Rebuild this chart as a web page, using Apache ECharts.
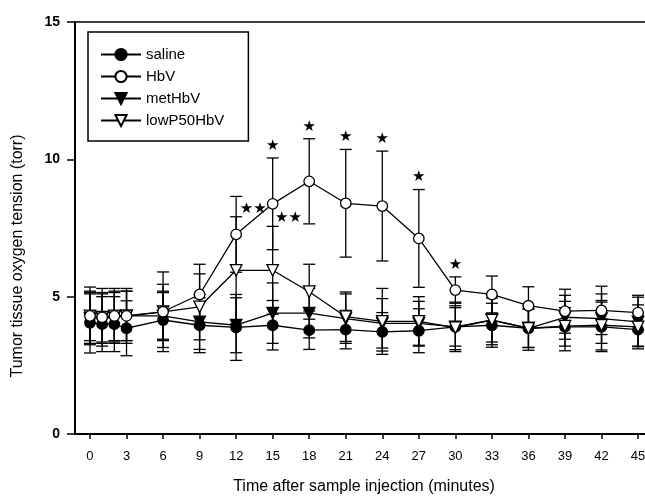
<!DOCTYPE html>
<html>
<head>
<meta charset="utf-8">
<script src="https://cdn.jsdelivr.net/npm/echarts@6/dist/echarts.min.js"></script>
<style>html,body{margin:0;padding:0;background:#fff;}#c{width:645px;height:498px;}</style>
</head>
<body>
<div id="c"></div>
<script>
const times = [0,1,2,3,6,9,12,15,18,21,24,27,30,33,36,39,42,45];
const xTicks = [0,3,6,9,12,15,18,21,24,27,30,33,36,39,42,45];
const yTicks = [0,5,10,15];

const salineMean = [4.05,4.0,4.0,3.85,4.15,3.96,3.88,3.96,3.78,3.8,3.72,3.76,3.9,3.96,3.85,3.9,3.9,3.8];
const salineSD   = [1.1,1.0,1.0,1.0,1.0,1.0,1.2,0.9,0.7,0.7,0.7,0.8,0.7,0.8,0.7,0.7,0.9,0.6];

const hbvMean = [4.3,4.25,4.3,4.3,4.45,5.08,7.27,8.38,9.2,8.4,8.3,7.12,5.24,5.08,4.67,4.47,4.5,4.42];
const hbvSD   = [1.05,1.05,1.0,1.0,1.45,1.1,1.38,1.67,1.55,1.96,2.0,1.78,0.48,0.67,0.69,0.8,0.88,0.63];

const metMean = [4.2,4.2,4.25,4.3,4.3,4.08,3.96,4.4,4.4,4.2,4.03,4.03,3.9,4.15,3.85,4.25,4.2,4.08];
const metSD   = [0.9,0.9,0.9,0.9,0.9,1.0,1.0,1.1,0.9,0.9,0.9,0.8,0.9,0.9,0.8,0.8,0.9,0.9];

const lowMean = [4.3,4.25,4.3,4.3,4.45,4.63,5.96,5.96,5.18,4.27,4.1,4.1,3.87,4.15,3.85,3.93,3.96,3.9];
const lowSD   = [0.9,0.9,0.9,0.9,1.0,1.2,1.95,1.6,1.0,0.9,1.2,0.9,0.8,0.8,0.7,0.9,0.9,0.8];

const singleStarTimes = [15,18,21,24,27,30];
const doubleStarPos = [[13.4,8.19],[16.3,7.86]];

const FONT = "'Liberation Sans', Arial, sans-serif";

function errData(mean, sd){ return times.map((t,i)=>[t, mean[i]-sd[i], mean[i]+sd[i]]); }
function errSeries(name, mean, sd){
  return {
    type:'custom', name: name+'_err', z:1, silent:true,
    data: errData(mean, sd),
    renderItem: function(params, api){
      const x = api.value(0), lo = api.value(1), hi = api.value(2);
      const a = api.coord([x, lo]), b = api.coord([x, hi]);
      const w = 6;
      const st = {stroke:'#000', lineWidth:1.3};
      return {type:'group', children:[
        {type:'line', shape:{x1:a[0],y1:a[1],x2:b[0],y2:b[1]}, style:st},
        {type:'line', shape:{x1:a[0]-w,y1:a[1],x2:a[0]+w,y2:a[1]}, style:st},
        {type:'line', shape:{x1:b[0]-w,y1:b[1],x2:b[0]+w,y2:b[1]}, style:st}
      ]};
    }
  };
}
function lineSeries(name, mean, symbol, filled, rotate){
  return {
    type:'line', name:name, z:3,
    data: times.map((t,i)=>[t, mean[i]]),
    symbol: symbol, symbolSize: symbol==='circle'?10.5:11.5, symbolRotate: rotate||0,
    showAllSymbol:true,
    lineStyle:{color:'#000', width:1.3},
    itemStyle:{color: filled?'#000':'#fff', borderColor:'#000', borderWidth:1.3},
    emphasis:{disabled:true}
  };
}

const starData = singleStarTimes.map(t=>{ const i = times.indexOf(t); return [t, hbvMean[i]+hbvSD[i], '★', -12]; })
  .concat(doubleStarPos.map(p=>[p[0], p[1], '★★', 0]));

const chart = echarts.init(document.getElementById('c'), null, {renderer:'canvas'});
chart.setOption({
  animation:false,
  backgroundColor:'#fff',
  grid:{left:75, top:22, right:0, bottom:64, containLabel:false, outerBoundsMode:'none'},
  xAxis:[{
    type:'value', min:-1.23, max:45.57,
    axisLine:{show:true, onZero:false, lineStyle:{color:'#000', width:2}},
    axisTick:{show:true, length:5, customValues:xTicks, lineStyle:{color:'#000', width:1.5}},
    axisLabel:{customValues:xTicks, color:'#000', fontSize:13, fontFamily:FONT, margin:16},
    splitLine:{show:false}
  },{
    type:'value', min:-1.23, max:45.57, position:'top',
    axisLine:{show:true, onZero:false, lineStyle:{color:'#000', width:1.5}},
    axisTick:{show:false}, axisLabel:{show:false}, splitLine:{show:false}
  }],
  yAxis:{
    type:'value', min:0, max:15,
    axisLine:{show:true, onZero:false, lineStyle:{color:'#000', width:2}},
    axisTick:{show:true, length:8, customValues:yTicks, lineStyle:{color:'#000', width:1.5}},
    axisLabel:{customValues:yTicks, color:'#000', fontSize:14, fontWeight:'bold', fontFamily:FONT, margin:15},
    splitLine:{show:false}
  },
  legend:{
    data:['saline','HbV','metHbV','lowP50HbV'],
    orient:'vertical', left:88, top:32,
    padding:[15,24,13,12],
    itemWidth:40, itemHeight:14, itemGap:7,
    borderColor:'#000', borderWidth:1.5, backgroundColor:'#fff',
    textStyle:{color:'#000', fontSize:15, fontFamily:FONT},
    selectedMode:false
  },
  graphic:[
    {type:'text', x:18, y:256, rotation:Math.PI/2, style:{text:'Tumor tissue oxygen tension (torr)', fill:'#000', font:'16px '+FONT, align:'center', verticalAlign:'middle'}},
    {type:'text', x:364, y:487, style:{text:'Time after sample injection (minutes)', fill:'#000', font:'16px '+FONT, align:'center', verticalAlign:'middle'}}
  ],
  series:[
    errSeries('saline', salineMean, salineSD),
    errSeries('HbV', hbvMean, hbvSD),
    errSeries('metHbV', metMean, metSD),
    errSeries('lowP50HbV', lowMean, lowSD),
    lineSeries('saline', salineMean, 'circle', true),
    lineSeries('metHbV', metMean, 'triangle', true, 180),
    lineSeries('lowP50HbV', lowMean, 'triangle', false, 180),
    lineSeries('HbV', hbvMean, 'circle', false),
    {
      type:'custom', name:'stars', z:4, silent:true,
      data: starData,
      renderItem: function(params, api){
        const p = api.coord([api.value(0), api.value(1)]);
        const d = starData[params.dataIndex];
        return {type:'text', x:p[0], y:p[1]+d[3], style:{text:d[2], fill:'#000', font:'bold 15px DejaVu Sans', align:'center', verticalAlign:'middle'}};
      }
    }
  ]
});
</script>
</body>
</html>
